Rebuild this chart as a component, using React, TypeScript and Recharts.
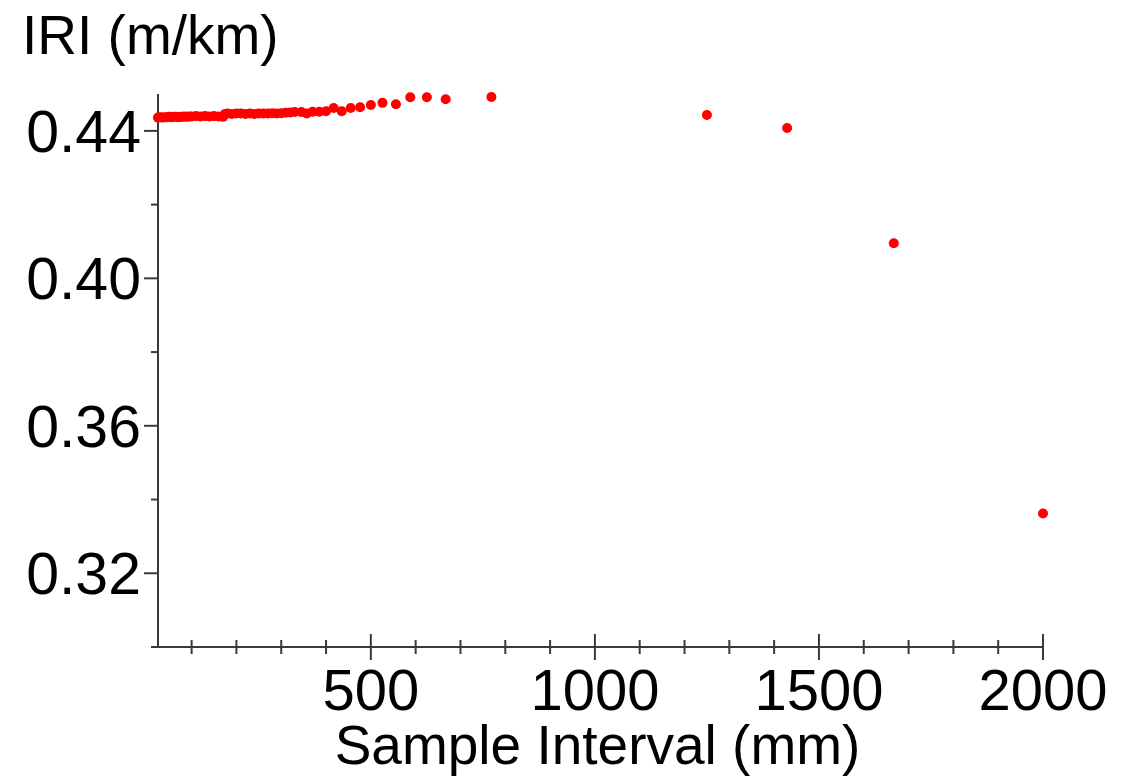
import { Scatter, ScatterChart, XAxis, YAxis } from "recharts";

// sample interval (mm) and the IRI computed at that interval
const intervalMm = [
  25, 30, 35, 40, 45, 50, 55, 60, 65, 70, 75, 80, 85, 90, 95, 100,
  110, 120, 130, 140, 150, 160, 170,
  175, 180, 190, 200, 210, 220, 230, 240, 250, 260, 270, 280, 290, 300, 310, 320, 330, 345,
  357, 370, 385, 400, 417, 435, 455, 476, 500, 526, 556, 588, 625, 667, 769,
  1250, 1429, 1667, 2000,
];

const iriMPerKm = [
  0.4436, 0.4437, 0.4436, 0.4437, 0.4437, 0.4438, 0.4437, 0.4438, 0.4438, 0.4437, 0.4438, 0.4438, 0.4439, 0.4438, 0.4439, 0.4439,
  0.444, 0.4439, 0.444, 0.4439, 0.444, 0.4439, 0.4438,
  0.4446, 0.4447, 0.4446, 0.4447, 0.4447, 0.4446, 0.4447, 0.4446, 0.4447, 0.4447, 0.4447, 0.4448, 0.4447, 0.4448, 0.4449, 0.445, 0.4451, 0.4451,
  0.4447, 0.4452, 0.4452, 0.4453, 0.4462, 0.4453, 0.4462, 0.4464, 0.447, 0.4476, 0.4472, 0.4491, 0.4491, 0.4486, 0.4492,
  0.4443, 0.4408, 0.4095, 0.3362,
];

const xTicks = [
  100, 200, 300, 400, 500, 600, 700, 800, 900, 1000,
  1100, 1200, 1300, 1400, 1500, 1600, 1700, 1800, 1900, 2000,
];
const xLabelled = [500, 1000, 1500, 2000];

const yTicks = [0.3, 0.32, 0.34, 0.36, 0.38, 0.4, 0.42, 0.44];
const yLabelled = [0.32, 0.36, 0.4, 0.44];

const points = intervalMm.map((x, i) => ({ x, iri: iriMPerKm[i] }));

const FONT = '"Liberation Sans", Arial, sans-serif';
const AXIS = "#3a3a3a";

function XTick({ x, y, payload }: any) {
  const major = xLabelled.includes(payload.value);
  const h = major ? 13 : 7;
  return (
    <g>
      <line x1={x} x2={x} y1={y - h} y2={y + h} stroke={AXIS} strokeWidth={2} />
      {major && (
        <text x={x} y={y + 63} textAnchor="middle" fontSize={58} fontFamily={FONT} fill="#000">
          {payload.value}
        </text>
      )}
    </g>
  );
}

function YTick({ x, y, payload }: any) {
  const major = yLabelled.some((v) => Math.abs(v - payload.value) < 1e-9);
  const w = major ? 14 : 7;
  return (
    <g>
      <line x1={x - w} x2={x} y1={y} y2={y} stroke={AXIS} strokeWidth={2} />
      {major && (
        <text x={x - 17} y={y + 21} textAnchor="end" fontSize={59} fontFamily={FONT} fill="#000">
          {payload.value.toFixed(2)}
        </text>
      )}
    </g>
  );
}

function Dot({ cx, cy }: any) {
  return <circle cx={cx} cy={cy} r={5} fill="#ff0000" />;
}

export default function App() {
  return (
    <div style={{ position: "absolute", left: 0, top: 0, background: "#fff" }}>
      <ScatterChart width={1132} height={781} margin={{ top: 94, right: 89, bottom: 0, left: 0 }}>
        <XAxis
          type="number"
          dataKey="x"
          domain={[25, 2000]}
          ticks={xTicks}
          interval={0}
          tickLine={false}
          tickSize={0}
          tickMargin={0}
          tick={<XTick />}
          axisLine={{ stroke: AXIS, strokeWidth: 2 }}
          height={134}
          label={{
            content: ({ viewBox }: any) => (
              <text
                x={viewBox.x + viewBox.width / 2 - 3}
                y={viewBox.y + 117}
                textAnchor="middle"
                fontSize={55}
                fontFamily={FONT}
                fill="#000"
              >
                Sample Interval (mm)
              </text>
            ),
          }}
        />
        <YAxis
          type="number"
          dataKey="iri"
          domain={[0.3, 0.45]}
          ticks={yTicks}
          interval={0}
          tickLine={false}
          tickSize={0}
          tickMargin={0}
          tick={<YTick />}
          axisLine={{ stroke: AXIS, strokeWidth: 2 }}
          width={158}
          label={{
            content: ({ viewBox }: any) => (
              <text x={22} y={viewBox.y - 40} fontSize={55} fontFamily={FONT} fill="#000">
                IRI (m/km)
              </text>
            ),
          }}
        />
        <Scatter data={points} shape={<Dot />} isAnimationActive={false} />
      </ScatterChart>
    </div>
  );
}
